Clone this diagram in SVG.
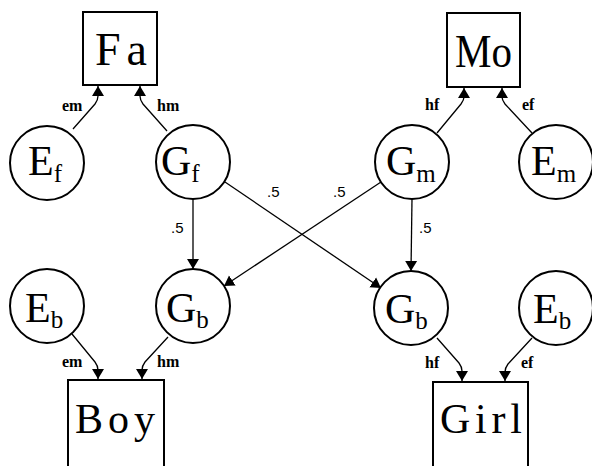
<svg xmlns="http://www.w3.org/2000/svg" width="592" height="466" viewBox="0 0 592 466">
<style>
.box{fill:#fff;stroke:#000;stroke-width:2}
.nd{fill:#fff;stroke:#000;stroke-width:2}
.big{font-family:"Liberation Serif","DejaVu Serif","Times New Roman",serif;font-size:46px;fill:#000}
.ctext{font-family:"Liberation Serif","DejaVu Serif","Times New Roman",serif;font-size:42px;fill:#000}
.sub{font-size:25px}
.lab{font-family:"Liberation Serif","DejaVu Serif","Times New Roman",serif;font-weight:bold;font-size:16px;fill:#000}
.num{font-family:"Liberation Sans","DejaVu Sans",Arial,sans-serif;font-size:15px;fill:#000}
.edge{fill:none;stroke:#000;stroke-width:1.3;marker-end:url(#ah)}
</style>
<defs>
<marker id="ah" viewBox="0 0 10 12" refX="10" refY="6" markerWidth="10" markerHeight="14" markerUnits="userSpaceOnUse" orient="auto">
<path d="M0,0 L10,6 L0,12 z" fill="#000"/>
</marker>
</defs>
<g id="Fa"><rect class="box" x="83" y="12" width="74" height="73"/><text class="big" x="95" y="65" textLength="52" lengthAdjust="spacing">Fa</text></g>
<g id="Mo"><rect class="box" x="447" y="13" width="73" height="74"/><text class="big" x="455" y="67" textLength="57" lengthAdjust="spacingAndGlyphs">Mo</text></g>
<g id="Boy"><rect class="box" x="68" y="380" width="96" height="100"/><text class="big" style="font-size:42px" x="75" y="433" textLength="80" lengthAdjust="spacing">Boy</text></g>
<g id="Girl"><rect class="box" x="433" y="382" width="95" height="100"/><text class="big" style="font-size:42px" x="440" y="433" textLength="82" lengthAdjust="spacing">Girl</text></g>
<g id="Ef"><circle class="nd" cx="47" cy="163" r="37"/><text class="ctext" x="28" y="175">E<tspan class="sub" dy="7">f</tspan></text></g>
<g id="Gf"><circle class="nd" cx="193" cy="162" r="37"/><text class="ctext" x="161" y="175">G<tspan class="sub" dy="7">f</tspan></text></g>
<g id="Gm"><circle class="nd" cx="412" cy="162" r="37"/><text class="ctext" x="386" y="175">G<tspan class="sub" dy="7">m</tspan></text></g>
<g id="Em"><circle class="nd" cx="556" cy="162" r="37"/><text class="ctext" x="531" y="175">E<tspan class="sub" dy="7">m</tspan></text></g>
<g id="Eb1"><circle class="nd" cx="47" cy="306" r="37"/><text class="ctext" x="25" y="322">E<tspan class="sub" dy="6">b</tspan></text></g>
<g id="Gb1"><circle class="nd" cx="193" cy="306" r="37"/><text class="ctext" x="166" y="322">G<tspan class="sub" dy="6">b</tspan></text></g>
<g id="Gb2"><circle class="nd" cx="411" cy="308" r="37"/><text class="ctext" x="385" y="323">G<tspan class="sub" dy="6">b</tspan></text></g>
<g id="Eb2"><circle class="nd" cx="556" cy="308" r="37"/><text class="ctext" x="533" y="323">E<tspan class="sub" dy="6">b</tspan></text></g>
<g id="connectors">
<path class="edge" d="M73,129 L95,104 Q98,100 98,96 L98,86"/>
<path class="edge" d="M167,131 L143,104 Q140,100 140,96 L140,86"/>
<path class="edge" d="M437,133 L461,104 Q464,100 464,97 L464,88"/>
<path class="edge" d="M532,133 L505,104 Q502,100 502,97 L502,88"/>
<path class="edge" d="M72,334 L95,362 Q98,366 98,370 L98,379"/>
<path class="edge" d="M168,337 L145,362 Q142,366 142,370 L142,379"/>
<path class="edge" d="M437,338 L459,363 Q462,367 462,371 L462,381"/>
<path class="edge" d="M532,338 L508,364 Q505,368 505,372 L505,381"/>
<path class="edge" d="M193,199 L193,269"/>
<path class="edge" d="M412,199 L411,271"/>
<path class="edge" d="M225,182 L381,288"/>
<path class="edge" d="M381,182 L224,286"/>
<text class="lab" x="62" y="111">em</text>
<text class="lab" x="157" y="111">hm</text>
<text class="lab" x="425" y="110">hf</text>
<text class="lab" x="522" y="110">ef</text>
<text class="lab" x="62" y="367">em</text>
<text class="lab" x="157" y="367">hm</text>
<text class="lab" x="425" y="368">hf</text>
<text class="lab" x="521" y="368">ef</text>
<text class="num" x="267" y="197">.5</text>
<text class="num" x="333" y="197">.5</text>
<text class="num" x="171" y="233">.5</text>
<text class="num" x="419" y="233">.5</text>
</g>
</svg>
